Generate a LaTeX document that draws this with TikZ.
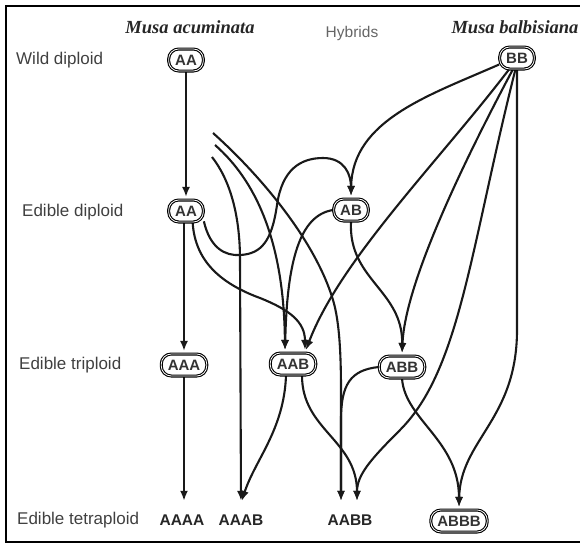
\documentclass[tikz,border=0pt]{standalone}
\usepackage{fontspec}
\setmainfont{Liberation Sans}
\newfontfamily\ttlfont{Liberation Serif}
\usetikzlibrary{arrows.meta}
\pgfdeclarelayer{bg}
\pgfsetlayers{bg,main}
\begin{document}
\begin{tikzpicture}[x=1pt,y=-1pt,
 box/.style={draw=black, double=white, line width=1.1pt, double distance=0.8pt, rounded corners=10pt, fill=white, minimum height=22pt, inner xsep=6.5pt, inner ysep=2pt, font=\bfseries\fontsize{15}{15}\selectfont, text=black!80},
 arr/.style={line width=2.1pt, draw=black!90, -{Latex[length=10pt,width=8pt]}, shorten >=2.5pt},
 lev/.style={anchor=west, font=\fontsize{17}{18}\selectfont, text=black!75, inner sep=0pt},
 tet/.style={font=\bfseries\fontsize{15.5}{15}\selectfont, inner sep=0pt, anchor=base, text height=22pt, text depth=0pt, text=black!85},
 ttl/.style={font=\ttlfont\bfseries\itshape\fontsize{18.5}{18}\selectfont, text=black!85}]
\useasboundingbox (0,0) rectangle (580,544);
\draw[line width=2.4pt] (580,6) -- (6,6) -- (6,542) -- (580,542);
% titles and level labels
\node[ttl] (tA) at (190,27) {Musa acuminata};
\node[font=\fontsize{15.5}{16}\selectfont, text=black!60] (hy) at (352,33) {Hybrids};
\node[ttl] (tB) at (515,27) {Musa balbisiana};
\node[lev] (l1) at (16,60) {Wild diploid};
\node[lev] (l2) at (22,212) {Edible diploid};
\node[lev] (l3) at (19,365) {Edible triploid};
\node[lev] (l4) at (17,520) {Edible tetraploid};
% genome nodes
\node[box] (AAw) at (186,60) {AA};
\node[box] (AAe) at (186,211) {AA};
\node[box] (AAA) at (184,365) {AAA};
\node[box] (AB) at (351,210) {AB};
\node[box] (AAB) at (293,364) {AAB};
\node[box] (ABB) at (402,367) {ABB};
\node[box] (BB) at (517,58) {BB};
\node[box] (ABBB) at (459,521) {ABBB};
\node[tet] (AAAA) at (182,525.5) {AAAA};
\node[tet] (AAAB) at (241,525.5) {AAAB};
\node[tet] (AABB) at (350,525.5) {AABB};
\coordinate (f1) at (213,133);
\coordinate (f2) at (215,145);
\coordinate (f3) at (212,157);
\begin{pgfonlayer}{bg}
\draw[arr] (AAw) -- (AAe);
\draw[arr] (AAe.south -| AAA) -- (AAA);
\draw[arr] (AAA.south) -- (AAA.south |- AAAA.north);
% AA edible -> AB (loop)
\draw[arr] (AAe.-30) .. controls (210,248) and (225,256) .. (240,255) .. controls (262,254) and (272,240) .. (277,205) .. controls (282,170) and (300,158) .. (323,158) .. controls (345,158) and (351,175) .. (AB.north);
% AA edible -> AAB
\draw[arr] (AAe.-60) .. controls (195,262) and (222,284) .. (260,298) .. controls (290,310) and (305,322) .. ([xshift=12pt]AAB.north);
% free lines
\draw[arr] (f1) .. controls (260,175) and (315,240) .. (333,300) .. controls (342,330) and (341,380) .. (341,420) -- ([xshift=-9pt]AABB.north);
\draw[arr] (f2) .. controls (255,180) and (284,240) .. ([xshift=-8pt]AAB.north);
\draw[arr] (f3) .. controls (230,180) and (240,215) .. (240,260) -- (AAAB.north);
% AB -> AAB
\draw[arr] (AB.west) .. controls (300,215) and (287,260) .. ([xshift=-8pt]AAB.north);
% BB edges
\draw[arr] (BB.200) .. controls (430,95) and (352,120) .. (AB.north);
\draw[arr] (BB.235) .. controls (440,160) and (340,260) .. ([xshift=12pt]AAB.north);
\draw[arr] (BB.250) .. controls (470,150) and (405,280) .. (ABB.north);
\draw[arr] (BB.262) .. controls (470,250) and (460,370) .. (400,430) .. controls (370,460) and (357,475) .. ([xshift=7pt]AABB.north);
\draw[arr] (BB.south) -- (517,330) .. controls (517,420) and (460,440) .. (ABBB.north);
% AB -> ABB
\draw[arr] (AB.south) .. controls (348,280) and (403,290) .. (ABB.north);
% AAB -> tetraploids
\draw[arr] ([xshift=9pt]AAB.south) .. controls (302,430) and (357,440) .. ([xshift=7pt]AABB.north);
\draw[arr] ([xshift=-7pt]AAB.south) .. controls (284,430) and (255,460) .. (AAAB.north);
% ABB -> tetraploids
\draw[arr] (ABB.west) .. controls (350,370) and (341,385) .. (341,420) -- ([xshift=-9pt]AABB.north);
\draw[arr] (ABB.south) .. controls (405,420) and (459,440) .. (ABBB.north);
\end{pgfonlayer}
\end{tikzpicture}
\end{document}
